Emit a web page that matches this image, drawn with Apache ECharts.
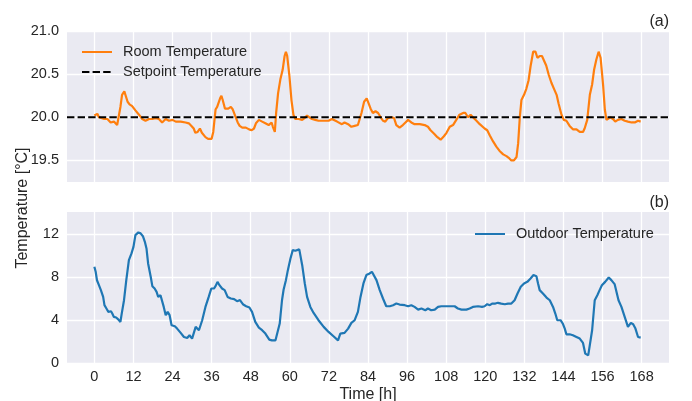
<!DOCTYPE html>
<html><head><meta charset="utf-8">
<script src="https://cdn.jsdelivr.net/npm/echarts@6/dist/echarts.min.js"></script>
<style>html,body{margin:0;padding:0;background:#fff}#c{width:692px;height:401px}</style>
</head><body><div id="c"></div>
<script>
// Room temperature [h, °C]
const roomTemp = [[0,20.02],[0.4,20.04],[0.9,20.04],[1.4,20.0],[2,19.98],[3,19.98],[4,19.98],[5,19.94],[6,19.95],[7,19.91],[7.5,19.93],[8,20.12],[8.5,20.26],[9.2,20.30],[9.6,20.28],[10.2,20.18],[10.8,20.15],[11.6,20.13],[12.6,20.08],[13.7,20.03],[14.7,19.98],[15.7,19.96],[16.8,19.98],[17.8,19.98],[18.8,19.99],[19.8,19.98],[20.3,19.99],[20.8,19.94],[21.9,19.98],[22.9,19.96],[24,19.97],[25,19.95],[26.5,19.95],[28,19.94],[29,19.93],[29.8,19.9],[30.5,19.87],[31,19.82],[31.7,19.83],[32.4,19.87],[33,19.82],[34.1,19.77],[34.9,19.75],[36,19.75],[36.5,19.83],[37.2,20.09],[37.7,20.12],[38.2,20.14],[38.6,20.22],[39,20.25],[39.4,20.20],[40.1,20.10],[41.1,20.10],[41.9,20.12],[42.5,20.09],[43.4,20.0],[44,19.94],[44.6,19.9],[45.4,19.88],[46.5,19.88],[47.5,19.86],[48.3,19.85],[49,19.87],[49.6,19.93],[50.5,19.97],[51.5,19.95],[52.5,19.93],[53.5,19.91],[54.4,19.94],[54.8,19.89],[55.4,19.83],[55.8,20.05],[56.4,20.28],[57.1,20.44],[57.8,20.55],[58.4,20.71],[58.8,20.76],[59.2,20.71],[59.9,20.47],[60.5,20.20],[61.1,20.03],[61.7,19.98],[62.7,19.98],[63.8,19.97],[64.5,19.99],[65.3,20.02],[66,20.0],[66.8,19.98],[67.8,19.97],[68.8,19.96],[71.9,19.96],[72.9,19.98],[74.5,19.95],[76,19.92],[76.8,19.94],[77.9,19.92],[78.9,19.89],[79.9,19.90],[80.9,19.91],[81.4,19.93],[82,20.05],[82.8,20.18],[83.6,20.22],[84.2,20.22],[84.8,20.10],[85.5,20.05],[86.3,20.07],[87.1,20.05],[87.9,20.0],[88.6,19.96],[89.3,19.95],[90.1,19.99],[91.2,20.0],[92,19.99],[92.7,19.91],[93.7,19.88],[94.7,19.91],[95.5,19.94],[96.3,19.97],[97.3,19.94],[98.3,19.92],[99.9,19.92],[101.4,19.91],[102.4,19.89],[103.2,19.85],[104.3,19.81],[105.3,19.77],[106.3,19.74],[107.3,19.78],[108.1,19.82],[109.1,19.89],[110.1,19.91],[111.1,19.97],[112.1,20.03],[113.2,20.05],[113.9,20.05],[114.7,20.0],[115.5,20.03],[116.2,20.0],[117.3,19.96],[118.3,19.92],[119.8,19.87],[120.6,19.85],[121.4,19.79],[122.4,19.72],[123.4,19.66],[124.4,19.61],[125.5,19.57],[126.5,19.55],[127.2,19.53],[128,19.50],[128.8,19.50],[129.6,19.54],[130.1,19.70],[130.6,20.0],[131.1,20.2],[131.9,20.26],[132.6,20.33],[133.3,20.43],[133.9,20.59],[134.7,20.76],[135.4,20.76],[136,20.69],[136.7,20.71],[137.4,20.71],[138,20.73],[138.7,20.6],[139.5,20.49],[140.3,20.40],[141.1,20.33],[141.9,20.26],[142.5,20.16],[143.4,20.03],[144.1,19.97],[144.9,19.96],[145.9,19.9],[146.9,19.86],[148,19.86],[149,19.83],[150,19.83],[150.5,19.87],[151.3,19.97],[152.1,20.26],[152.8,20.38],[153.4,20.55],[154.1,20.67],[154.8,20.76],[155.4,20.69],[156.2,20.36],[156.7,20.09],[157.2,19.97],[157.7,19.96],[158.4,20.0],[159.2,19.98],[159.9,19.95],[160.7,19.97],[161.8,19.98],[162.8,19.96],[163.8,19.95],[164.9,19.94],[165.9,19.94],[166.9,19.96],[167.7,19.95]];

// Outdoor temperature [h, °C]
const outdoorTemp = [[0,8.95],[0.4,8.49],[0.8,7.7],[1.4,7.24],[2,6.78],[2.7,6.15],[3.1,5.38],[3.7,5.07],[4.3,4.76],[5.1,4.82],[5.5,4.6],[6,4.29],[6.7,4.23],[7.4,4.04],[8,3.82],[8.4,4.6],[9.1,5.84],[9.8,7.71],[10.6,9.57],[11.4,10.2],[12,10.8],[12.6,11.9],[13.5,12.15],[14.2,12.06],[14.9,11.8],[15.5,11.28],[16,10.66],[16.5,9.26],[17.3,8.02],[17.8,7.15],[18.5,6.93],[19.1,6.62],[19.6,6.15],[20.3,6.31],[20.8,6.47],[21.3,5.22],[21.9,4.45],[22.5,4.76],[23.1,4.45],[23.7,3.51],[24.7,3.42],[25.4,3.2],[26.5,2.8],[27.5,2.42],[28.5,2.33],[29.2,2.58],[30,2.27],[31.1,3.36],[32.1,3.05],[33.1,3.98],[34.1,5.22],[35.1,6.15],[35.9,6.93],[36.7,6.93],[37.2,7.15],[37.8,7.55],[38.4,7.24],[39.2,6.93],[40,6.78],[40.9,6.15],[41.9,6.0],[42.9,5.94],[43.8,5.75],[44.7,5.85],[45.7,5.44],[46.6,5.28],[47.6,5.16],[48.4,4.76],[49.4,3.82],[50.5,3.29],[51.5,3.05],[52.5,2.74],[53.7,2.18],[54.5,2.11],[55.6,2.11],[56.1,2.18],[56.9,3.67],[57.6,5.84],[58.1,6.84],[58.8,7.71],[59.4,8.64],[60.2,9.73],[60.9,10.5],[61.7,10.44],[62.3,10.44],[62.9,10.57],[63.8,9.1],[64.6,7.4],[65.3,6.15],[66.3,5.22],[67.3,4.66],[68.8,3.98],[70.4,3.36],[71.9,2.89],[73.4,2.49],[74.8,2.11],[75.5,2.74],[76,2.89],[76.8,2.8],[77.9,3.2],[78.9,3.73],[79.9,3.98],[80.9,4.76],[81.7,6.15],[82.6,7.4],[83.5,8.18],[84.5,8.33],[85.2,8.49],[85.8,8.64],[86.6,7.71],[87.6,6.78],[88.6,6.0],[89.6,5.28],[90.7,5.28],[91.7,5.38],[92.7,5.53],[93.7,5.44],[95.3,5.38],[96.3,5.28],[97.3,5.38],[98.3,5.22],[99.4,4.97],[100.4,5.07],[101.6,4.91],[102.4,5.07],[103.4,4.91],[104.5,4.97],[105.5,5.22],[106.5,5.28],[110.6,5.28],[111.6,5.07],[112.7,4.97],[114.2,4.97],[115.2,5.07],[116.2,5.22],[117.8,5.28],[119,5.22],[119.8,5.28],[120.6,5.47],[121.4,5.38],[122.1,5.53],[123.1,5.53],[123.9,5.6],[124.9,5.53],[126,5.47],[127,5.53],[128,5.53],[129,5.84],[129.9,6.47],[130.9,7.09],[131.9,7.4],[132.9,7.55],[133.9,7.86],[134.8,8.18],[135.7,8.08],[136.2,7.4],[136.7,6.78],[137.7,6.47],[138.8,6.09],[139.8,5.84],[140.8,5.22],[141.5,4.6],[142.1,3.98],[143.1,3.98],[143.8,3.67],[144.4,3.2],[144.9,2.67],[145.9,2.67],[146.9,2.58],[148,2.42],[149,2.27],[150,1.87],[150.7,0.87],[151.6,0.71],[152.2,0.71],[152.8,3.05],[153.6,5.84],[154.4,6.31],[155.1,6.78],[155.8,7.24],[156.8,7.55],[157.9,7.96],[158.7,7.71],[159.7,7.34],[160.3,7.24],[160.9,5.84],[161.8,5.22],[162.8,4.29],[163.8,3.36],[164.7,3.73],[165.4,3.6],[166.1,3.2],[166.9,2.42],[167.7,2.36]];

const setpointValue = 20.0;
const xTicks = [0,12,24,36,48,60,72,84,96,108,120,132,144,156,168];
const roomYTicks = [19.5,20.0,20.5,21.0];
const outdoorYTicks = [0,4,8,12];
const xRange = [-8.4, 176.4];
const roomYRange = [19.25, 21.0];
const outdoorYRange = [0, 14.05];
const setpointLine = [[xRange[0], setpointValue],[xRange[1], setpointValue]];

const FONT = '"Liberation Sans", Arial, sans-serif';
const TXT = '#262626';

function xAxisCfg(idx, showLabel){
  return {gridIndex: idx, type:'value', min:xRange[0], max:xRange[1],
    axisLine:{show:false}, axisTick:{show:false, customValues:xTicks},
    axisLabel:{show:showLabel, customValues:xTicks, margin:6, fontSize:14.5, color:TXT, fontFamily:FONT},
    splitLine:{show:true, lineStyle:{color:'#ffffff', width:1.3}}};
}
function yAxisCfg(idx, range, ticks, fmt){
  return {gridIndex: idx, type:'value', min:range[0], max:range[1],
    axisLine:{show:false}, axisTick:{show:false, customValues:ticks},
    axisLabel:{show:true, customValues:ticks, margin:8, fontSize:14.5, color:TXT, fontFamily:FONT, formatter:fmt},
    splitLine:{show:true, lineStyle:{color:'#ffffff', width:1.3}}};
}
const legendBase = {orient:'vertical', itemWidth:30, itemHeight:14, itemGap:5, padding:0,
  itemStyle:{opacity:0},
  textStyle:{fontSize:14.5, color:TXT, fontFamily:FONT, padding:[0,0,0,6]}};

const chart = echarts.init(document.getElementById('c'), null, {renderer:'canvas'});
chart.setOption({
  animation:false,
  backgroundColor:'#ffffff',
  grid:[
    {left:67, right:23, top:31, height:151, show:true, backgroundColor:'#EAEAF2', borderWidth:0},
    {left:67, right:23, top:212, height:151, show:true, backgroundColor:'#EAEAF2', borderWidth:0}
  ],
  xAxis:[xAxisCfg(0,false), xAxisCfg(1,true)],
  yAxis:[
    yAxisCfg(0, roomYRange, roomYTicks, v => v.toFixed(1)),
    yAxisCfg(1, outdoorYRange, outdoorYTicks, v => String(Math.round(v)))
  ],
  legend:[
    Object.assign({}, legendBase, {data:['Room Temperature','Setpoint Temperature'], left:81, top:44.5}),
    Object.assign({}, legendBase, {data:['Outdoor Temperature'], left:474, top:226.5})
  ],
  series:[
    {name:'Room Temperature', type:'line', xAxisIndex:0, yAxisIndex:0, data:roomTemp,
     symbol:'none', lineStyle:{color:'#ff7f0e', width:2.2}, itemStyle:{color:'#ff7f0e'}},
    {name:'Setpoint Temperature', type:'line', xAxisIndex:0, yAxisIndex:0, data:setpointLine,
     symbol:'none', lineStyle:{color:'#000000', width:2, type:[7.4,3.2]}, itemStyle:{color:'#000000'}},
    {name:'Outdoor Temperature', type:'line', xAxisIndex:1, yAxisIndex:1, data:outdoorTemp,
     symbol:'none', lineStyle:{color:'#1f77b4', width:2.2}, itemStyle:{color:'#1f77b4'}}
  ],
  graphic:[
    {type:'text', x:669, y:21.5, style:{text:'(a)', align:'right', verticalAlign:'middle', fontSize:16, fontFamily:FONT, fill:TXT}},
    {type:'text', x:669, y:202.5, style:{text:'(b)', align:'right', verticalAlign:'middle', fontSize:16, fontFamily:FONT, fill:TXT}},
    {type:'text', x:368, y:395, style:{text:'Time [h]', align:'center', verticalAlign:'middle', fontSize:16, fontFamily:FONT, fill:TXT}},
    {type:'text', x:23, y:208, rotation:Math.PI/2, style:{text:'Temperature [°C]', align:'center', verticalAlign:'middle', fontSize:16, fontFamily:FONT, fill:TXT}}
  ]
});
</script></body></html>
